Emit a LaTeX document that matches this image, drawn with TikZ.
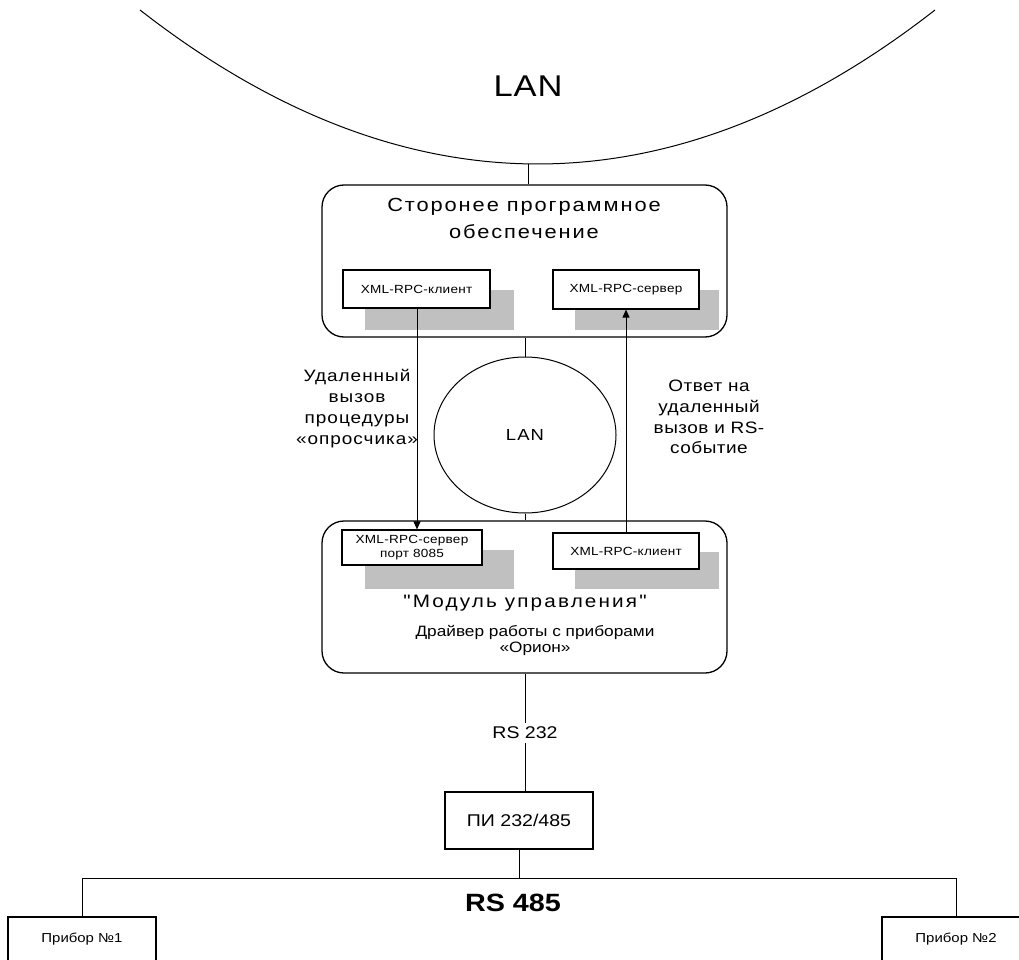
\documentclass[tikz,border=0pt]{standalone}
\usepackage{fontspec}
\setmainfont{Liberation Sans}[Ligatures=TeXOff]
\usetikzlibrary{shapes.geometric,arrows.meta,calc}
\newcommand{\fz}[3]{\fontsize{#1}{#2}\selectfont\addfontfeatures{FakeStretch=1.15,LetterSpace=#3}}
\definecolor{shad}{RGB}{192,192,192}
\tikzset{
  rbox/.style={draw, line width=1.3pt, fill=white, rounded corners=22pt, minimum width=405pt, minimum height=152pt, inner sep=0pt},
  sbox/.style={draw, line width=1.2pt, fill=white, inner sep=0pt, font=\fz{11.8}{13.5}{2}, align=center},
  pbox/.style={draw, line width=1.2pt, fill=white, inner sep=0pt},
  link/.style={line width=1pt},
  arr/.style={link, -{Triangle[length=8pt,width=7pt]}},
  txt/.style={inner sep=0pt}
}
\begin{document}
\begin{tikzpicture}[x=1pt,y=-1pt]
\clip (0,0) rectangle (1019,960);
\fill[white] (0,0) rectangle (1019,960);
% top LAN
\draw[link] (140,10) .. controls (403.3,215.3) and (671.7,215.3) .. (935,10);
\coordinate (lanb) at (528,164);
\node[txt, anchor=base, font=\fz{30}{33}{3}] (lan1) at (528,97) {LAN};
% upper box
\node[rbox] (sw) at (524.5,261) {};
\node[txt, anchor=north, align=center, font=\fz{19}{27}{10}] (swt) at (524,198) {Сторонее программное\\обеспечение};
\fill[shad] (365,290) rectangle (514,330);
\fill[shad] (575,290) rectangle (719,330);
\node[sbox, minimum width=147pt, minimum height=38pt] (cli1) at (416.5,289) {XML-RPC-клиент};
\node[sbox, minimum width=146pt, minimum height=39pt] (srv1) at (626,289.5) {XML-RPC-сервер};
% lower box
\node[rbox] (mu) at (524.5,597) {};
\fill[shad] (365,550) rectangle (514,589);
\fill[shad] (575,552) rectangle (719,589);
\node[sbox, minimum width=140pt, minimum height=35pt] (srv2) at (412,547.5) {XML-RPC-сервер\\порт 8085};
\node[sbox, minimum width=146pt, minimum height=36pt] (cli2) at (626,551) {XML-RPC-клиент};
\node[txt, anchor=base, font=\fz{18}{22}{12}] (mut) at (525,607) {"Модуль управления"};
\node[txt, anchor=north, align=center, font=\fz{15}{16.5}{0}] (drv) at (535,625) {Драйвер работы с приборами\\«Орион»};
% middle LAN
\node[draw, ellipse, link, minimum width=182pt, minimum height=156pt, inner sep=0pt, font=\fz{16}{18}{7}] (lan2) at (525,435) {LAN};
\node[txt, anchor=north, align=center, font=\fz{16.5}{21}{6}] (lbl1) at (357,369) {Удаленный\\вызов\\процедуры\\«опросчика»};
\node[txt, anchor=north, align=center, font=\fz{16.5}{20.7}{3}] (lbl2) at (709,380) {Ответ на\\удаленный\\вызов и RS-\\событие};
% connectors
\draw[link] (lanb) -- (sw.north -| lanb);
\coordinate (ax1) at (417,0);
\coordinate (ax2) at (626,0);
\draw[arr] (cli1.south -| ax1) -- (srv2.north -| ax1);
\draw[arr] (cli2.north -| ax2) -- (srv1.south -| ax2);
\draw[link] (sw.south -| lan2.north) -- (lan2.north);
\draw[link] (lan2.south) -- (mu.north -| lan2.south);
% bottom
\coordinate (rsx) at (525,0);
\node[pbox, minimum width=148pt, minimum height=57pt, font=\fz{17}{20}{0}] (pi) at (519,820.5) {ПИ 232/485};
\draw[link] (mu.south -| rsx) -- node[fill=white, inner xsep=2pt, inner ysep=4pt, font=\fz{17}{20}{0}] (rs232) {RS 232} (pi.north -| rsx);
\node[pbox, minimum width=148pt, minimum height=45pt, font=\fz{13}{15}{0}] (pr1) at (82,939.5) {Прибор №1};
\node[pbox, minimum width=148pt, minimum height=45pt, font=\fz{13}{15}{0}] (pr2) at (956,939.5) {Прибор №2};
\coordinate (bus) at (0,878);
\draw[link] (pi.south) -- (pi.south |- bus);
\draw[link] (pr1.north) -- (pr1.north |- bus) -- (pr2.north |- bus) -- (pr2.north);
\node[txt, anchor=base, font=\bfseries\fz{25}{30}{0}] (rs485) at (513,911) {RS 485};
\end{tikzpicture}
\end{document}
